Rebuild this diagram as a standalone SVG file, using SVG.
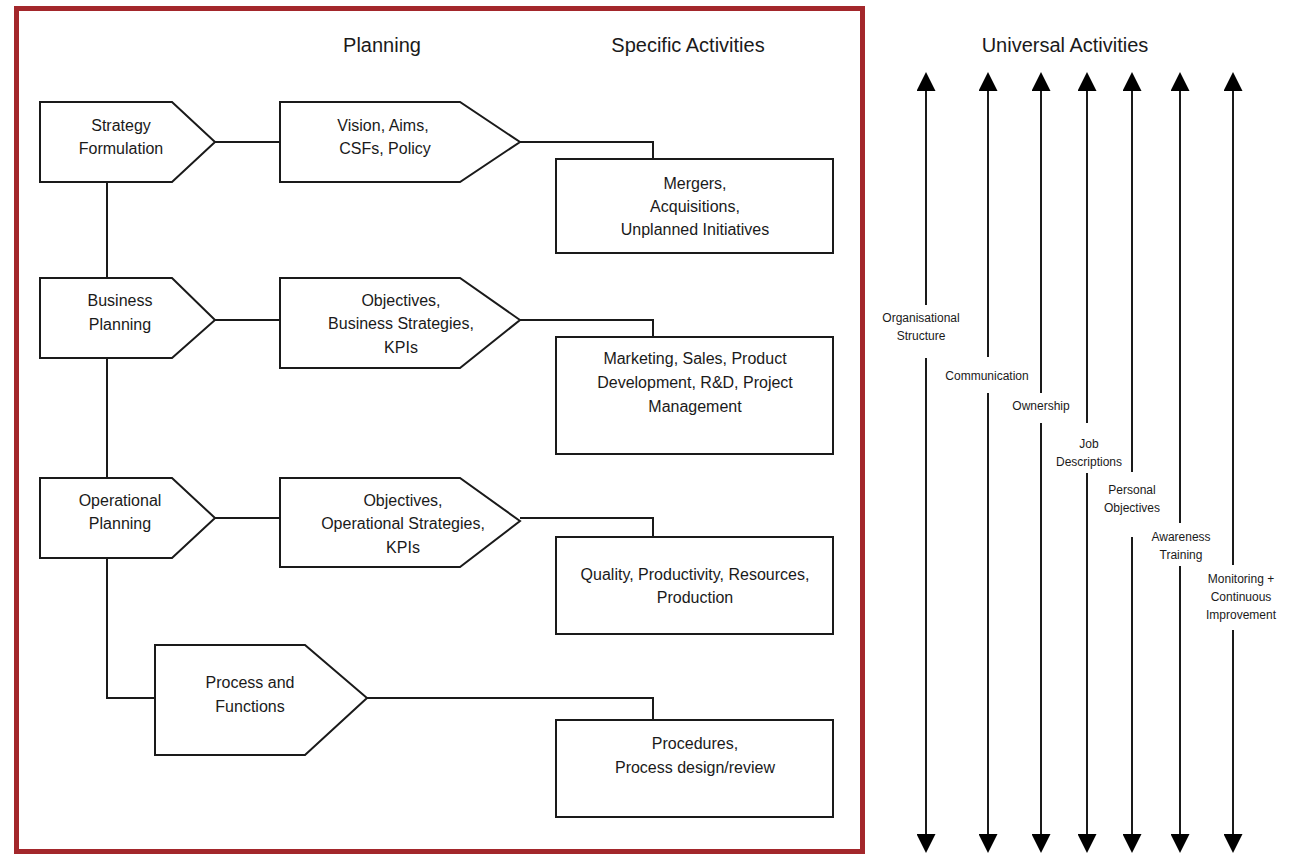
<svg xmlns="http://www.w3.org/2000/svg" width="1294" height="854" viewBox="0 0 1294 854">
<style>
text{font-family:"Liberation Sans",Arial,sans-serif;fill:#1a1a1a;text-anchor:middle}
.t{font-size:20px}
.n{font-size:16px}
.s{font-size:12px}
.shape{fill:#fff;stroke:#1a1a1a;stroke-width:2}
.c{fill:none;stroke:#1a1a1a;stroke-width:2}
.ua{fill:none;stroke:#1a1a1a;stroke-width:2;marker-start:url(#ah);marker-end:url(#ah)}
</style>
<defs>
<marker id="ah" viewBox="0 0 19 19" refX="0" refY="9.5" markerWidth="19" markerHeight="19" markerUnits="userSpaceOnUse" orient="auto-start-reverse">
<path d="M0,0 L19,9.5 L0,19 z" fill="#000"/>
</marker>
</defs>
<rect x="0" y="0" width="1294" height="854" fill="#fff"/>
<rect id="frame" x="16.5" y="8.5" width="846" height="843" fill="none" stroke="#a3272b" stroke-width="5"/>
<g id="titles">
<text class="t" x="382" y="52">Planning</text>
<text class="t" x="688" y="52">Specific Activities</text>
<text class="t" x="1065" y="52">Universal Activities</text>
</g>
<g id="connectors">
<path class="c" d="M215,142 H280"/>
<path class="c" d="M520,142 H653 V159"/>
<path class="c" d="M107,182 V278"/>
<path class="c" d="M215,320 H280"/>
<path class="c" d="M520,320 H653 V337"/>
<path class="c" d="M107,358 V478"/>
<path class="c" d="M215,518 H280"/>
<path class="c" d="M520,518 H653 V537"/>
<path class="c" d="M107,558 V698 H155"/>
<path class="c" d="M367,698 H653 V720"/>
<path class="ua" d="M926,91 V305 M926,358 V834"/>
<path class="ua" d="M988,91 V357 M988,393 V834"/>
<path class="ua" d="M1041,91 V393 M1041,423 V834"/>
<path class="ua" d="M1087,91 V423 M1087,473 V834"/>
<path class="ua" d="M1132,91 V472 M1132,537 V834"/>
<path class="ua" d="M1180,91 V523 M1180,566 V834"/>
<path class="ua" d="M1233,91 V565 M1233,630 V834"/>
</g>
<g id="strategy">
<path class="shape" d="M40,102 H172 L215,142 L172,182 H40 Z"/>
<text class="n" x="121" y="131">Strategy</text>
<text class="n" x="121" y="154">Formulation</text>
</g>
<g id="vision">
<path class="shape" d="M280,102 H460 L520,142 L460,182 H280 Z"/>
<text class="n" x="383" y="131">Vision, Aims,</text>
<text class="n" x="385" y="154">CSFs, Policy</text>
</g>
<g id="mergers">
<rect class="shape" x="556" y="159" width="277" height="94"/>
<text class="n" x="695" y="189">Mergers,</text>
<text class="n" x="695" y="212">Acquisitions,</text>
<text class="n" x="695" y="235">Unplanned Initiatives</text>
</g>
<g id="business">
<path class="shape" d="M40,278 H172 L215,320 L172,358 H40 Z"/>
<text class="n" x="120" y="306">Business</text>
<text class="n" x="120" y="330">Planning</text>
</g>
<g id="bobjectives">
<path class="shape" d="M280,278 H460 L520,320 L460,368 H280 Z"/>
<text class="n" x="401" y="306">Objectives,</text>
<text class="n" x="401" y="329">Business Strategies,</text>
<text class="n" x="401" y="353">KPIs</text>
</g>
<g id="marketing">
<rect class="shape" x="556" y="337" width="277" height="117"/>
<text class="n" x="695" y="364">Marketing, Sales, Product</text>
<text class="n" x="695" y="388">Development, R&amp;D, Project</text>
<text class="n" x="695" y="412">Management</text>
</g>
<g id="operational">
<path class="shape" d="M40,478 H172 L215,518 L172,558 H40 Z"/>
<text class="n" x="120" y="506">Operational</text>
<text class="n" x="120" y="529">Planning</text>
</g>
<g id="oobjectives">
<path class="shape" d="M280,478 H460 L520,521 L460,567 H280 Z"/>
<text class="n" x="403" y="506">Objectives,</text>
<text class="n" x="403" y="529">Operational Strategies,</text>
<text class="n" x="403" y="553">KPIs</text>
</g>
<g id="quality">
<rect class="shape" x="556" y="537" width="277" height="97"/>
<text class="n" x="695" y="580">Quality, Productivity, Resources,</text>
<text class="n" x="695" y="603">Production</text>
</g>
<g id="process">
<path class="shape" d="M155,645 H305 L367,698 L305,755 H155 Z"/>
<text class="n" x="250" y="688">Process and</text>
<text class="n" x="250" y="712">Functions</text>
</g>
<g id="procedures">
<rect class="shape" x="556" y="720" width="277" height="97"/>
<text class="n" x="695" y="749">Procedures,</text>
<text class="n" x="695" y="773">Process design/review</text>
</g>
<g id="universal-labels">
<text class="s" x="921" y="322">Organisational</text>
<text class="s" x="921" y="340">Structure</text>
<text class="s" x="987" y="380">Communication</text>
<text class="s" x="1041" y="410">Ownership</text>
<text class="s" x="1089" y="448">Job</text>
<text class="s" x="1089" y="466">Descriptions</text>
<text class="s" x="1132" y="494">Personal</text>
<text class="s" x="1132" y="512">Objectives</text>
<text class="s" x="1181" y="541">Awareness</text>
<text class="s" x="1181" y="559">Training</text>
<text class="s" x="1241" y="583">Monitoring +</text>
<text class="s" x="1241" y="601">Continuous</text>
<text class="s" x="1241" y="619">Improvement</text>
</g>
</svg>
